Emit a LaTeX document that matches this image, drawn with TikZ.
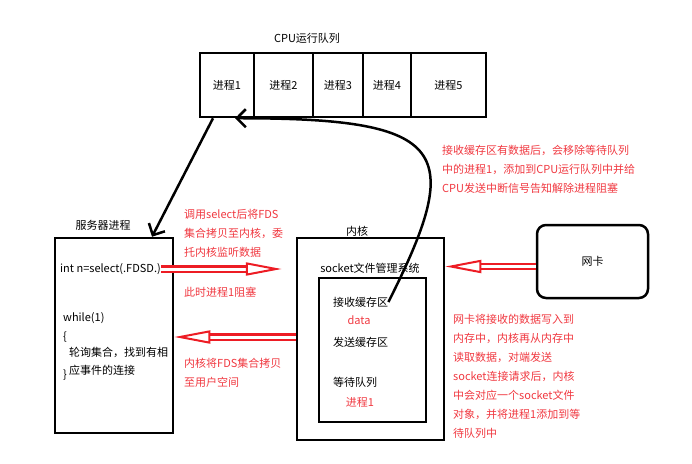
\documentclass[tikz,border=0pt]{standalone}
\usepackage{fontspec}
\setmainfont{Noto Sans CJK SC}
\usetikzlibrary{arrows.meta}
\definecolor{arrowred}{RGB}{237,28,36}
\definecolor{notered}{RGB}{240,56,64}

\begin{document}
\begin{tikzpicture}[x=1pt, y=-1pt,
    every node/.style={font=\fontsize{11}{13}\selectfont, inner sep=0pt},
    box/.style={draw, line width=2.5pt},
    cell/.style={box, minimum height=64pt},
    redtext/.style={text=notered, align=left, anchor=west, font=\fontsize{11}{19}\selectfont},
    redarrow/.style={draw=arrowred, line width=2.2pt, double=white, double distance=3pt,
      -{Triangle[open, length=36pt, width=13pt, line width=2pt]}},
    blackarrow/.style={line width=2.5pt, -{Straight Barb[length=9pt, width=18pt]}}]
    \useasboundingbox (0,0) rectangle (692,463);
    \node (cpu title) at (307,38) {CPU运行队列};
    \node[cell, minimum width=54pt] (p1) at (227,85) {进程1};
    \node[cell, minimum width=59pt] (p2) at (283.5,85) {进程2};
    \node[cell, minimum width=50pt] (p3) at (338,85) {进程3};
    \node[cell, minimum width=48pt] (p4) at (387,85) {进程4};
    \node[cell, minimum width=75pt] (p5) at (448.5,85) {进程5};
    \node (server title) at (103,225) {服务器进程};
    \node[box, minimum width=118pt, minimum height=195pt] (server) at (114,335.5) {};
    \node[anchor=west] (select) at (60,269) {int n=select(.FDSD.)};
    \node[anchor=west] (while) at (63,318) {while(1)};
    \node[anchor=west] (open brace) at (63,337) {\{};
    \node[anchor=west] (poll a) at (69,352) {轮询集合，找到有相};
    \node[anchor=west] (poll b) at (69,370) {应事件的连接};
    \node[anchor=west] (close brace) at (63,375) {\}};
    \node (kernel title) at (357,231) {内核};
    \node[box, minimum width=147pt, minimum height=202pt] (kernel) at (370.5,339) {};
    \node (sockfs) at (370,268) {socket文件管理系统};
    \node[box, minimum width=107pt, minimum height=144pt] (socket) at (372.5,350) {};
    \node[anchor=west] (recv) at (333,302) {接收缓存区};
    \node[text=notered] (data) at (359,320) {data};
    \node[anchor=west] (send) at (333,342) {发送缓存区};
    \node[anchor=west] (wait) at (333,382) {等待队列};
    \node[text=notered] (wait p1) at (360,402) {进程1};
    \node[box, rounded corners=9pt, minimum width=111pt, minimum height=73pt] (nic) at (592.5,261.5) {网卡};
    \node[redtext] (copy in) at (184,233) {调用select后将FDS\\集合拷贝至内核，委\\托内核监听数据};
    \node[redtext] (blocked) at (184,292) {此时进程1阻塞};
    \node[redtext] (copy out) at (184,372.5) {内核将FDS集合拷贝\\至用户空间};
    \node[redtext] (wake) at (442,169) {接收缓存区有数据后，会移除等待队列\\中的进程1，添加到CPU运行队列中并给\\CPU发送中断信号告知解除进程阻塞};
    \node[redtext] (nic note) at (453,376.5) {网卡将接收的数据写入到\\内存中，内核再从内存中\\读取数据，对端发送\\socket连接请求后，内核\\中会对应一个socket文件\\对象，并将进程1添加到等\\待队列中};
    \coordinate (ret) at (kernel.west |- open brace);
    \draw[redarrow, shorten >=14pt] (select.east) -- (select.east -| kernel.west);
    \draw[redarrow] (ret) -- (ret -| server.east);
    \draw[redarrow] ([yshift=-5pt]nic.west) -- ([yshift=-5pt]nic.west -| kernel.east);
    \draw[blackarrow] ([xshift=-14pt]p1.south) -- ([xshift=38pt]server.north);
    \draw[blackarrow] (recv.east) .. controls (465,150) and (450,118) .. ([xshift=8pt]p1.south);
  \end{tikzpicture}
\end{document}
